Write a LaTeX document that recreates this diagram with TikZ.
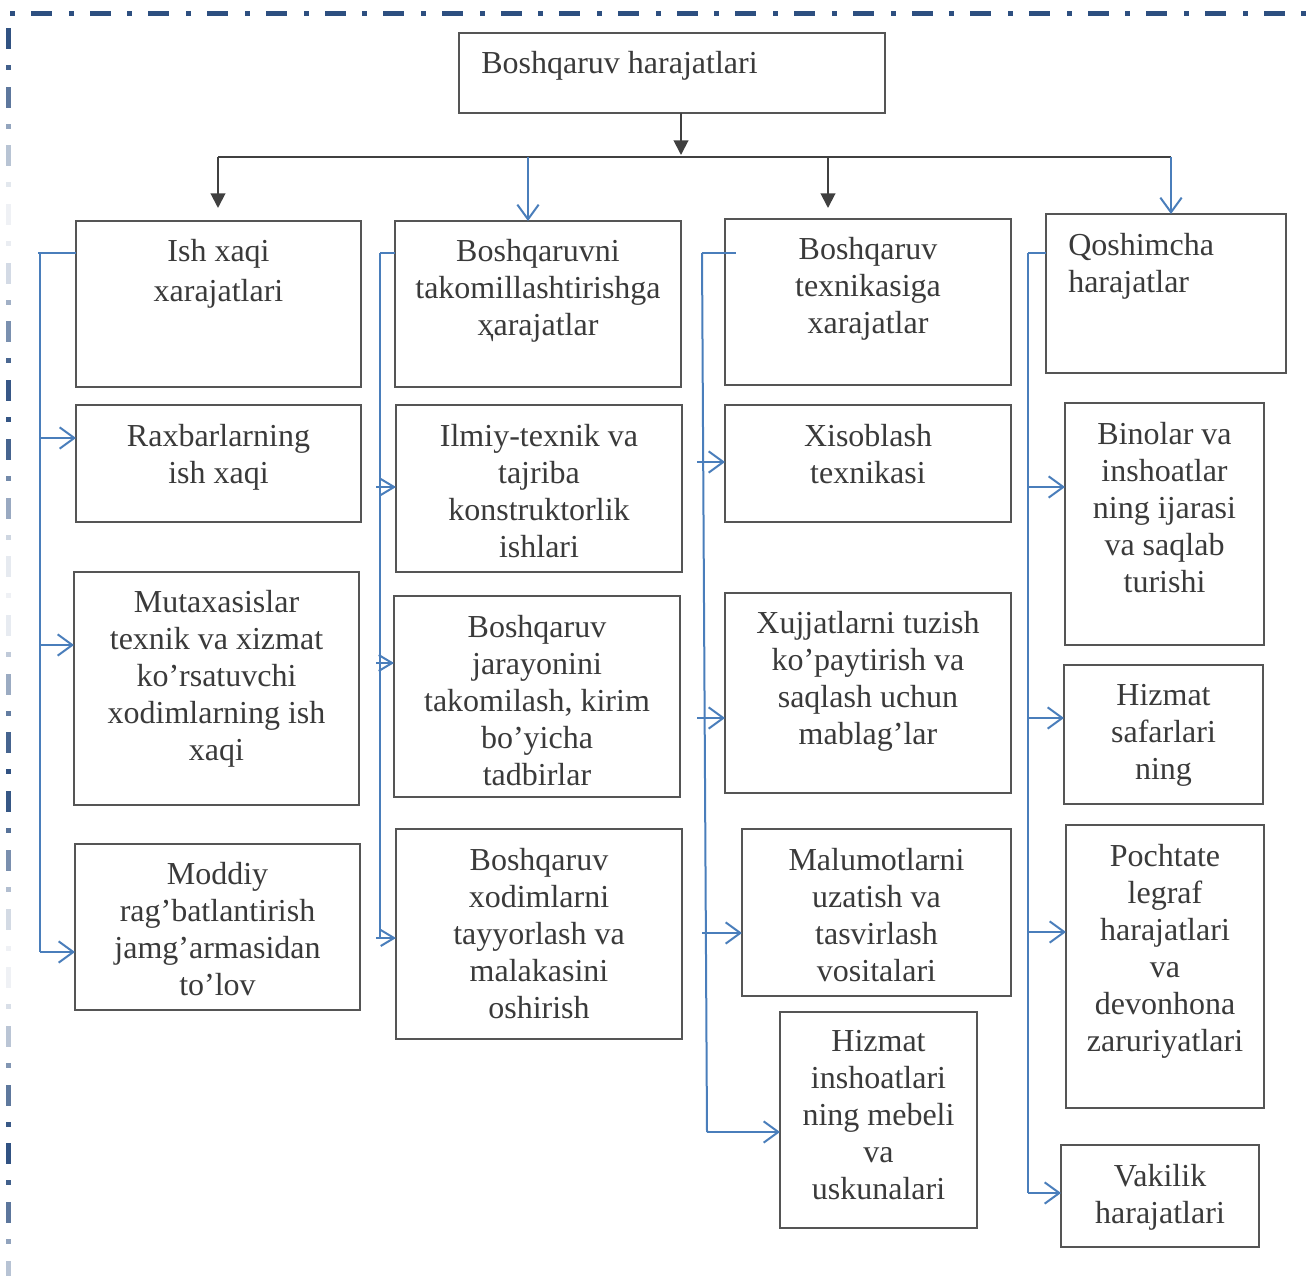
\documentclass[tikz,border=0pt]{standalone}
\usepackage{fontspec}
\setmainfont{Liberation Serif}
\usetikzlibrary{arrows.meta}
\definecolor{bord}{HTML}{2D4F80}
\definecolor{boxc}{HTML}{555555}
\definecolor{txtc}{HTML}{3A3A3A}
\definecolor{conn}{HTML}{4A7EBB}
\definecolor{darkc}{HTML}{404040}
\tikzset{
  box/.style={draw=boxc, line width=1.5pt, inner sep=0pt, outer sep=0pt, rectangle},
  txt/.style={text=txtc, align=center, inner sep=0pt, font=\fontsize{24pt}{27.75pt}\selectfont},
  darr/.style={draw=darkc, line width=1.5pt, -{Triangle[width=11pt,length=11pt]}},
  dline/.style={draw=darkc, line width=1.5pt},
  barr/.style={draw=conn, line width=1.5pt, -{Straight Barb[length=11pt,width=16pt,line width=1.5pt]}},
  sarr/.style={draw=conn, line width=1.5pt, -{Straight Barb[length=10pt,width=12pt,line width=1.5pt]}},
  bline/.style={draw=conn, line width=1.5pt},
}
\newcommand\bx[5]{%
  \node[box, minimum width={(#4-#2)*0.75pt}, minimum height={(#5-#3)*0.75pt}] (#1) at ({(#2+#4)/2},{(#3+#5)/2}) {};}
% text node: name, centre x, first baseline y, text
\newcommand\tx[4]{\node[txt, anchor=north] (#1) at (#2,{#3-20}) {#4};}
\begin{document}
\begin{tikzpicture}[x=0.75pt,y=-0.75pt]
\useasboundingbox (0,0) rectangle (1316,1276);
% border
\foreach \k in {0,...,22}{
  \pgfmathsetmacro\xa{10+58.7*\k}
  \pgfmathsetmacro\xb{31+58.7*\k}
  \ifdim\xa pt<1316pt \fill[bord] (\xa,11) rectangle ({min(\xa+5,1316)},16); \fi
  \ifdim\xb pt<1316pt \fill[bord] (\xb,11) rectangle ({min(\xb+21,1316)},16); \fi
}
\foreach \k in {0,...,21}{
  \pgfmathsetmacro\ya{28+58.7*\k}
  \pgfmathsetmacro\yb{65+58.7*\k}
  \pgfmathsetmacro\oa{max(0.08,0.52+0.46*cos(((\ya-28)/372)*360))}
  \pgfmathsetmacro\ob{max(0.08,0.52+0.46*cos(((\yb-30)/372)*360))}
  \ifdim\ya pt<1276pt \fill[bord, opacity=\oa] (6,\ya) rectangle (11,{min(\ya+21,1276)}); \fi
  \ifdim\yb pt<1276pt \fill[bord, opacity=\ob] (6,\yb) rectangle (11,{min(\yb+5,1276)}); \fi
}
% top box
\bx{top}{459}{33}{885}{113}
\node[txt, anchor=base west, align=left] (topt) at (481,74) {Boshqaruv harajatlari};
% column 1
\bx{a1}{76}{221}{361}{387}
\node[txt, anchor=north, font=\fontsize{24pt}{30pt}\selectfont] (a1t) at (218.5,239) {Ish xaqi\\xarajatlari};
\bx{a2}{76}{405}{361}{522}
\tx{a2t}{218.5}{444}{Raxbarlarning\\ish xaqi}
\bx{a3}{74}{572}{359}{805}
\tx{a3t}{216.5}{610}{Mutaxasislar\\texnik va xizmat\\ko’rsatuvchi\\xodimlarning ish\\xaqi}
\bx{a4}{75}{844}{360}{1010}
\tx{a4t}{217.5}{882}{Moddiy\\rag’batlantirish\\jamg’armasidan\\to’lov}
% column 2
\bx{b1}{395}{221}{681}{387}
\tx{b1t}{538}{259}{Boshqaruvni\\takomillashtirishga\\ҳarajatlar}
\bx{b2}{396}{405}{682}{572}
\tx{b2t}{539}{444}{Ilmiy-texnik va\\tajriba\\konstruktorlik\\ishlari}
\bx{b3}{394}{596}{680}{797}
\tx{b3t}{537}{635}{Boshqaruv\\jarayonini\\takomilash, kirim\\bo’yicha\\tadbirlar}
\bx{b4}{396}{829}{682}{1039}
\tx{b4t}{539}{868}{Boshqaruv\\xodimlarni\\tayyorlash va\\malakasini\\oshirish}
% column 3
\bx{c1}{725}{219}{1011}{385}
\tx{c1t}{868}{257}{Boshqaruv\\texnikasiga\\xarajatlar}
\bx{c2}{725}{405}{1011}{522}
\tx{c2t}{868}{444}{Xisoblash\\texnikasi}
\bx{c3}{725}{593}{1011}{793}
\tx{c3t}{868}{631}{Xujjatlarni tuzish\\ko’paytirish va\\saqlash uchun\\mablag’lar}
\bx{c4}{742}{829}{1011}{996}
\tx{c4t}{876.5}{868}{Malumotlarni\\uzatish va\\tasvirlash\\vositalari}
\bx{c5}{780}{1012}{977}{1228}
\tx{c5t}{878.5}{1050}{Hizmat\\inshoatlari\\ning mebeli\\va\\uskunalari}
% column 4
\bx{d1}{1046}{214}{1286}{373}
\node[txt, anchor=north west, align=left] (d1t) at (1068,233) {Qoshimcha\\harajatlar};
\bx{d2}{1065}{403}{1264}{645}
\tx{d2t}{1164.5}{442}{Binolar va\\inshoatlar\\ning ijarasi\\va saqlab\\turishi}
\bx{d3}{1064}{665}{1263}{804}
\tx{d3t}{1163.5}{704}{Hizmat\\safarlari\\ning}
\bx{d4}{1066}{825}{1264}{1108}
\tx{d4t}{1165}{864}{Pochtate\\legraf\\harajatlari\\va\\devonhona\\zaruriyatlari}
\bx{d5}{1061}{1145}{1259}{1247}
\tx{d5t}{1160}{1184}{Vakilik\\harajatlari}
% top-level connectors
\coordinate (j0) at (681,157);
\coordinate (j1) at (218,157);
\coordinate (j2) at (528,157);
\coordinate (j3) at (828,157);
\coordinate (j4) at (1171,157);
\coordinate (e1) at (218,208);
\coordinate (e3) at (828,208);
\draw[darr] (top.south -| j0) -- ([yshift=1.5pt]j0);
\draw[dline] (j1) -- (j4);
\draw[darr] (j1) -- (e1);
\draw[darr] (j3) -- (e3);
\draw[barr] (j2) -- (j2 |- b1.north);
\draw[barr] (j4) -- (j4 |- d1.north);
% column 1 bracket
\coordinate (s1) at (40,253);
\draw[bline] (s1 -| a1.west) -- ([xshift=-1.5pt]s1);
\draw[bline] (s1) -- (40,952);
\draw[barr] (40,438) -- (a2.west |- 0,438);
\draw[barr] (40,645) -- (a3.west |- 0,645);
\draw[barr] (40,952) -- (a4.west |- 0,952);
% column 2 bracket
\coordinate (s2) at (380,253);
\draw[bline] (s2) -- (b1.west |- s2);
\draw[bline] (s2) -- (380,938);
\draw[sarr] (376,487) -- (b2.west |- 0,487);
\draw[sarr] (376,663) -- (b3.west |- 0,663);
\draw[sarr] (376,938) -- (b4.west |- 0,938);
% column 3 bracket
\coordinate (s3) at (702,253);
\draw[bline] (s3) -- (736,253);
\draw[bline] (s3) -- (707,1132);
\draw[barr] (697,462) -- (c2.west |- 0,462);
\draw[barr] (697,718) -- (c3.west |- 0,718);
\draw[barr] (702,933) -- (c4.west |- 0,933);
\draw[barr] (707,1132) -- (c5.west |- 0,1132);
% column 4 bracket
\coordinate (s4) at (1028,253);
\draw[bline] (s4) -- (d1.west |- s4);
\draw[bline] (s4) -- (1028,1193);
\draw[barr] (1028,487) -- (d2.west |- 0,487);
\draw[barr] (1028,718) -- (d3.west |- 0,718);
\draw[barr] (1028,932) -- (d4.west |- 0,932);
\draw[barr] (1028,1193) -- (d5.west |- 0,1193);
\end{tikzpicture}
\end{document}
